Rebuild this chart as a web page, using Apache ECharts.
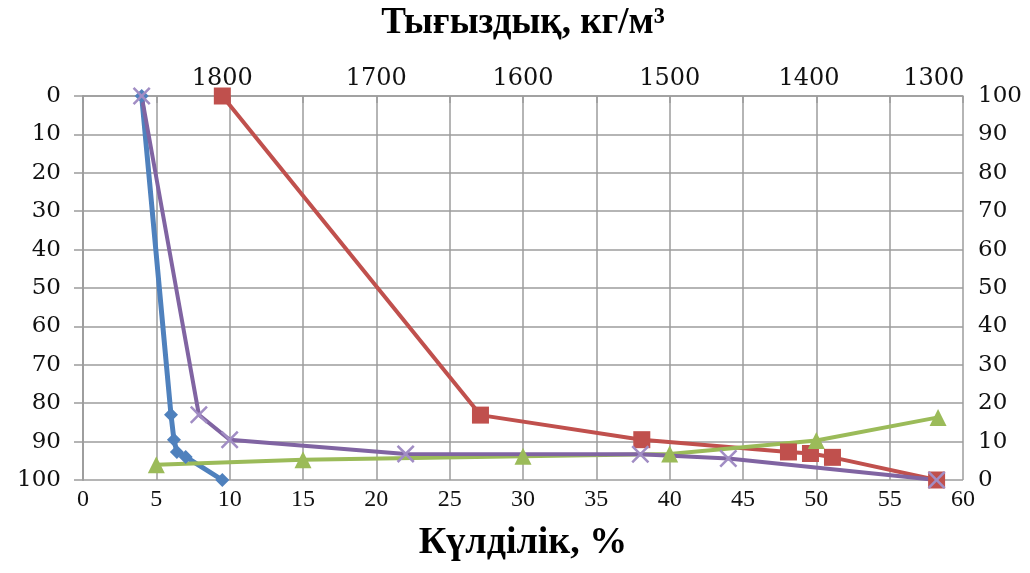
<!DOCTYPE html>
<html>
<head>
<meta charset="utf-8">
<script src="https://cdn.jsdelivr.net/npm/echarts@6/dist/echarts.min.js"></script>
<style>
  html, body { margin: 0; padding: 0; background: #fff; }
  #chart { width: 1030px; height: 573px; }
</style>
</head>
<body>
<div id="chart"></div>
<script>
// Ash content (%) on the bottom axis, depth-like scale 0..100 on the left (inverted), 0..100 on the right.
const blueSeries   = [[4, 0], [6, 83], [6.2, 89.5], [6.4, 92.7], [7, 94], [9.5, 100]];
const redSeries    = [[9.5, 0], [27.1, 83.1], [38.1, 89.5], [48.1, 92.7], [49.6, 93.1], [51.1, 94.1], [58.2, 100]];
const greenSeries  = [[5, 4], [15, 5.3], [30, 6.2], [40, 6.8], [50, 10.3], [58.3, 16.3]];
const purpleSeries = [[4, 0], [7.9, 83], [10, 89.5], [22, 93.2], [38, 93.3], [44, 94.4], [58.2, 100]];

// Density scale (kg/m³) shown on the top axis, placed at the matching ash content.
const densityLabels = ['1800', '1700', '1600', '1500', '1400', '1300'];
const densityAtAsh  = [9.5, 20, 30, 40, 49.5, 58];

const gridColor = '#9c9c9c';
const crossPath = 'path://M0,1 L1,0 L5,4 L9,0 L10,1 L6,5 L10,9 L9,10 L5,6 L1,10 L0,9 L4,5 Z';

const chart = echarts.init(document.getElementById('chart'), null, { renderer: 'canvas' });

chart.setOption({
  backgroundColor: '#ffffff',
  animation: false,
  grid: { left: 83, right: 67, top: 92, bottom: 93, containLabel: false },
  xAxis: [
    {
      type: 'value', position: 'bottom', min: 0, max: 60, interval: 5,
      name: 'Күлділік, %', nameLocation: 'middle', nameGap: 44,
      nameTextStyle: { fontFamily: 'Liberation Serif', fontWeight: 'bold', fontSize: 38, color: '#000' },
      axisLine: { show: true, lineStyle: { color: gridColor, width: 1.5 } },
      axisTick: { show: true, inside: false, length: 7, lineStyle: { color: gridColor, width: 1.5 } },
      axisLabel: { fontFamily: 'Liberation Serif', fontSize: 24, color: '#111', margin: 8 },
      splitLine: { show: true, lineStyle: { color: gridColor, width: 1.5 } }
    },
    {
      type: 'value', position: 'top', min: 0, max: 60,
      name: 'Тығыздық, кг/м³', nameLocation: 'middle', nameGap: 54,
      nameTextStyle: { fontFamily: 'Liberation Serif', fontWeight: 'bold', fontSize: 37, color: '#000' },
      axisLine: { show: false },
      axisTick: { show: false },
      splitLine: { show: false },
      axisLabel: {
        customValues: densityAtAsh,
        fontFamily: 'DejaVu Serif', fontSize: 24, color: '#111', margin: 5,
        formatter: function (v) {
          const i = densityAtAsh.indexOf(v);
          return i >= 0 ? densityLabels[i] : '';
        }
      }
    }
  ],
  yAxis: [
    {
      type: 'value', position: 'left', inverse: true, min: 0, max: 100, interval: 10,
      axisLine: { show: true, lineStyle: { color: gridColor, width: 1.5 } },
      axisTick: { show: true, inside: false, length: 9, lineStyle: { color: gridColor, width: 1.5 } },
      axisLabel: { fontFamily: 'DejaVu Serif', fontSize: 23, color: '#111', margin: 22 },
      splitLine: { show: true, lineStyle: { color: gridColor, width: 1.5 } }
    },
    {
      type: 'value', position: 'right', min: 0, max: 100, interval: 10,
      axisLine: { show: true, lineStyle: { color: gridColor, width: 1.5 } },
      axisTick: { show: false },
      axisLabel: { fontFamily: 'DejaVu Serif', fontSize: 23, color: '#111', margin: 15 },
      splitLine: { show: false }
    }
  ],
  series: [
    {
      name: 'blue', type: 'line', xAxisIndex: 0, yAxisIndex: 0, data: blueSeries,
      symbol: 'diamond', symbolSize: 14,
      lineStyle: { color: '#4F81BD', width: 5 },
      itemStyle: { color: '#4F81BD' }
    },
    {
      name: 'red', type: 'line', xAxisIndex: 0, yAxisIndex: 0, data: redSeries,
      symbol: 'rect', symbolSize: 17,
      lineStyle: { color: '#C0504D', width: 4 },
      itemStyle: { color: '#C0504D' }
    },
    {
      name: 'green', type: 'line', xAxisIndex: 0, yAxisIndex: 1, data: greenSeries,
      symbol: 'triangle', symbolSize: 17,
      lineStyle: { color: '#9BBB59', width: 4 },
      itemStyle: { color: '#9BBB59' }
    },
    {
      name: 'purple', type: 'line', xAxisIndex: 0, yAxisIndex: 0, data: purpleSeries,
      symbol: crossPath, symbolSize: 18,
      lineStyle: { color: '#8064A2', width: 4 },
      itemStyle: { color: '#A18DC4' }
    }
  ]
});
</script>
</body>
</html>
